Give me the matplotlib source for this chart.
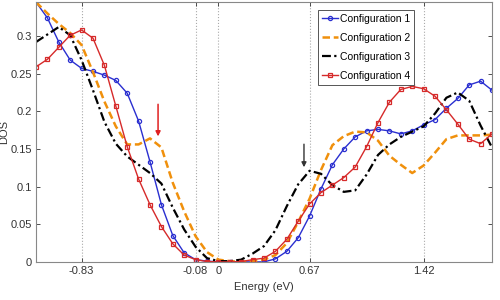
import matplotlib
matplotlib.use('Agg')
import matplotlib.pyplot as plt

plt.rcParams['font.family'] = ['Liberation Sans', 'DejaVu Sans']

# energy grid (eV)
energy = [-1.13, -1.055, -0.98, -0.905, -0.83, -0.755, -0.68, -0.605, -0.53, -0.455,
          -0.38, -0.305, -0.23, -0.155, -0.08, -0.005, 0.07, 0.145, 0.22, 0.295,
          0.37, 0.445, 0.52, 0.595, 0.67, 0.745, 0.82, 0.895, 0.97, 1.045,
          1.12, 1.195, 1.27, 1.345, 1.42, 1.495, 1.57, 1.645, 1.72, 1.795, 1.87]

config1 = [0.345, 0.324, 0.292, 0.268, 0.257, 0.253, 0.248, 0.241, 0.224, 0.187,
           0.133, 0.076, 0.035, 0.012, 0.003, 0.001, 0.0, 0.0, 0.0, 0.0,
           0.0, 0.004, 0.014, 0.032, 0.061, 0.097, 0.129, 0.150, 0.166, 0.174,
           0.176, 0.174, 0.170, 0.174, 0.182, 0.189, 0.204, 0.217, 0.235, 0.240, 0.228]

config2 = [0.345, 0.330, 0.316, 0.304, 0.288, 0.252, 0.213, 0.180, 0.156, 0.156,
           0.164, 0.152, 0.105, 0.067, 0.034, 0.013, 0.003, 0.001, 0.0, 0.001,
           0.003, 0.009, 0.025, 0.053, 0.084, 0.122, 0.155, 0.167, 0.173, 0.172,
           0.161, 0.141, 0.129, 0.118, 0.128, 0.145, 0.163, 0.168, 0.168, 0.168, 0.169]

config3 = [0.292, 0.302, 0.312, 0.301, 0.268, 0.228, 0.186, 0.157, 0.140, 0.129,
           0.118, 0.104, 0.072, 0.043, 0.020, 0.005, 0.001, 0.001, 0.003, 0.011,
           0.021, 0.042, 0.074, 0.103, 0.121, 0.117, 0.102, 0.093, 0.095, 0.116,
           0.142, 0.156, 0.166, 0.173, 0.180, 0.197, 0.218, 0.225, 0.214, 0.181, 0.152]

config4 = [0.259, 0.269, 0.285, 0.301, 0.308, 0.297, 0.261, 0.207, 0.153, 0.110,
           0.076, 0.047, 0.024, 0.009, 0.003, 0.0005, 0.0, 0.0, 0.0004, 0.003,
           0.005, 0.014, 0.030, 0.054, 0.077, 0.092, 0.102, 0.112, 0.126, 0.153,
           0.185, 0.212, 0.229, 0.233, 0.230, 0.220, 0.202, 0.183, 0.163, 0.157, 0.170]

xtick_pos = [-0.83, -0.08, 0.07, 0.67, 1.42]
xtick_labels = ['-0.83', '-0.08', '0', '0.67', '1.42']
ytick_pos = [0, 0.05, 0.1, 0.15, 0.2, 0.25, 0.3]
ytick_labels = ['0', '0.05', '0.1', '0.15', '0.2', '0.25', '0.3']

fig = plt.figure(figsize=(5, 3), dpi=100)
ax = fig.add_axes([0.072, 0.127, 0.912, 0.866])

ax.plot(energy, config1, color='#2a2fd0', lw=1.0, marker='o', ms=3,
        mfc='none', mec='#2a2fd0', mew=0.9, label='Configuration 1')
ax.plot(energy, config2, color='#f0900c', lw=1.8, ls=(0, (3, 1.5)),
        label='Configuration 2')
ax.plot(energy, config3, color='black', lw=1.6, ls=(0, (4, 1.5, 1, 1.5)),
        label='Configuration 3')
ax.plot(energy, config4, color='#d62a2a', lw=1.0, marker='s', ms=3.5,
        mfc='none', mec='#d62a2a', mew=0.9, label='Configuration 4')

# arrows marking the peaks
ax.annotate('', xy=(-0.327, 0.163), xytext=(-0.327, 0.213),
            arrowprops=dict(arrowstyle='-|>', color='#e02020', lw=1.1, mutation_scale=7))
ax.annotate('', xy=(0.633, 0.122), xytext=(0.633, 0.160),
            arrowprops=dict(arrowstyle='-|>', color='#333333', lw=1.0, mutation_scale=7))

ax.set_xlim(-1.13, 1.87)
ax.set_ylim(0, 0.345)
ax.set_xticks(xtick_pos)
ax.set_xticklabels(xtick_labels)
ax.set_yticks(ytick_pos)
ax.set_yticklabels(ytick_labels)
ax.tick_params(direction='in', length=3, width=0.6, labelsize=8, colors='#333333',
               top=True, right=True, pad=3)
ax.xaxis.grid(True, ls=':', color='#aaaaaa', lw=0.8)
for s in ax.spines.values():
    s.set_color('#888888')
    s.set_linewidth(0.8)

ax.set_xlabel('Energy (eV)', fontsize=8, color='#333333', labelpad=4)
ax.set_ylabel('DOS', fontsize=8, color='#333333')
ax.yaxis.set_label_coords(-0.058, 0.5)

leg = ax.legend(loc='upper left', bbox_to_anchor=(0.618, 0.97), fontsize=7.5,
                fancybox=False, framealpha=1, edgecolor='#555555',
                handlelength=1.5, handletextpad=0.2, borderpad=0.4,
                labelspacing=0.85, borderaxespad=0)
leg.get_frame().set_linewidth(0.7)

fig.savefig('out.png', dpi=100)
